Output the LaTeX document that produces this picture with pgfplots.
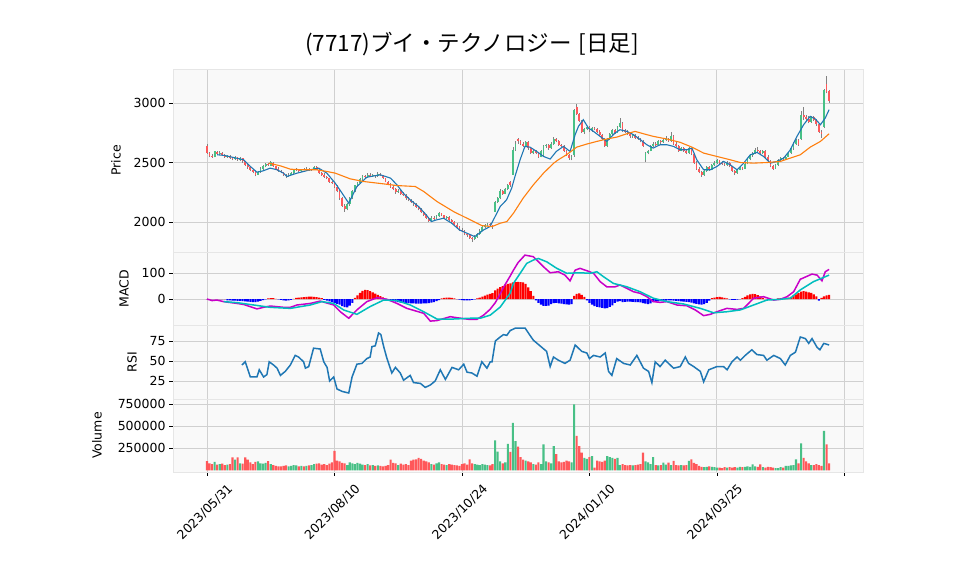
\documentclass[border=0pt]{standalone}
\usepackage{pgfplots}
\pgfplotsset{compat=1.18}
\usepackage{pgfplotstable}
\usepackage{fontspec}
\setmainfont{DejaVu Sans}
\newfontfamily\jp{Noto Sans CJK JP}

\definecolor{upc}{RGB}{72,192,134}
\definecolor{dnc}{RGB}{255,88,90}
\definecolor{wick}{RGB}{130,130,130}
\definecolor{bgc}{RGB}{249,249,249}
\definecolor{gridc}{RGB}{208,208,208}
\definecolor{framec}{RGB}{230,230,230}
\definecolor{ma1}{RGB}{31,119,180}
\definecolor{ma2}{RGB}{255,127,14}
\definecolor{macdc}{RGB}{200,0,200}
\definecolor{sigc}{RGB}{0,190,190}

% daily candles: index, open, high, low, close, volume, MACD histogram
\pgfplotstableread{
i o h l c v m
0 2640 2655 2575 2585 103000 0
1 2580 2590 2545 2555 80000 0
2 2555 2570 2540 2550 70000 0
3 2550 2600 2545 2595 95000 0
4 2590 2600 2565 2575 65000 0
5 2575 2595 2565 2585 70000 0
6 2580 2590 2555 2560 75000 0
7 2560 2570 2540 2545 60000 0
8 2545 2565 2540 2555 65000 -5
9 2555 2560 2530 2540 70000 -5
10 2540 2550 2520 2530 147000 -6
11 2530 2555 2525 2545 120000 -6
12 2545 2550 2515 2520 147000 -7
13 2520 2545 2510 2535 80000 -7
14 2535 2540 2500 2510 75000 -8
15 2510 2515 2470 2480 147000 -9
16 2480 2490 2450 2460 120000 -10
17 2460 2470 2430 2440 90000 -11
18 2440 2450 2410 2425 70000 -12
19 2425 2430 2385 2400 95000 -12
20 2400 2430 2395 2420 100000 -10
21 2420 2460 2415 2450 80000 -7
22 2450 2480 2440 2470 75000 -4
23 2470 2500 2460 2490 85000 -1
24 2490 2495 2470 2480 103000 2
25 2475 2515 2470 2505 70000 3
26 2500 2505 2465 2470 60000 3
27 2470 2475 2440 2450 50000 1
28 2450 2460 2425 2430 45000 -1
29 2430 2440 2410 2420 45000 -3
30 2420 2425 2390 2400 50000 -5
31 2400 2405 2370 2385 55000 -6
32 2385 2410 2380 2400 45000 -5
33 2400 2420 2395 2410 50000 -3
34 2410 2450 2405 2440 60000 1
35 2440 2455 2430 2445 55000 4
36 2445 2450 2425 2430 45000 5
37 2430 2450 2425 2445 50000 6
38 2445 2455 2435 2440 45000 7
39 2440 2460 2435 2450 50000 8
40 2450 2455 2430 2435 55000 9
41 2435 2450 2430 2445 60000 9
42 2445 2475 2440 2465 70000 8
43 2465 2470 2435 2440 75000 7
44 2440 2445 2405 2410 80000 5
45 2410 2420 2390 2400 65000 3
46 2400 2410 2375 2380 70000 -3
47 2380 2390 2360 2370 60000 -6
48 2370 2375 2330 2340 75000 -9
49 2340 2350 2320 2330 90000 -12
50 2330 2335 2290 2300 220000 -15
51 2300 2310 2250 2260 110000 -19
52 2260 2270 2190 2200 100000 -22
53 2200 2210 2130 2140 85000 -27
54 2140 2150 2090 2110 80000 -31
55 2110 2160 2100 2150 60000 -32
56 2150 2210 2140 2200 90000 -25
57 2200 2270 2195 2260 80000 -15
58 2260 2315 2250 2310 70000 4
59 2310 2340 2300 2330 85000 14
60 2330 2370 2320 2360 75000 24
61 2360 2395 2350 2385 65000 31
62 2385 2395 2370 2380 60000 35
63 2380 2410 2375 2400 70000 34
64 2400 2410 2380 2390 55000 30
65 2390 2405 2380 2395 60000 26
66 2395 2400 2375 2385 50000 21
67 2385 2420 2380 2405 55000 16
68 2405 2415 2390 2395 50000 11
69 2395 2400 2365 2370 45000 6
70 2370 2375 2335 2340 50000 1
71 2340 2350 2310 2320 60000 -2
72 2320 2330 2290 2300 120000 -5
73 2300 2310 2270 2280 85000 -7
74 2280 2285 2240 2250 80000 -10
75 2250 2275 2245 2265 60000 -12
76 2265 2270 2230 2240 75000 -14
77 2240 2250 2220 2230 65000 -15
78 2230 2235 2190 2200 70000 -16
79 2200 2210 2175 2185 60000 -16
80 2185 2195 2160 2170 110000 -17
81 2170 2180 2140 2150 120000 -17
82 2150 2160 2120 2130 125000 -18
83 2130 2140 2100 2110 140000 -18
84 2110 2120 2080 2090 130000 -18
85 2090 2095 2050 2060 110000 -17
86 2060 2070 2030 2040 100000 -17
87 2040 2045 2000 2010 90000 -16
88 2010 2050 2005 2040 70000 -14
89 2040 2050 2020 2035 65000 -12
90 2035 2060 2030 2050 80000 -8
91 2050 2085 2045 2075 90000 -4
92 2075 2080 2050 2060 70000 2
93 2060 2065 2030 2040 65000 4
94 2040 2055 2025 2045 60000 5
95 2045 2050 2010 2020 70000 5
96 2020 2025 1990 2000 65000 4
97 2000 2010 1970 1980 60000 2
98 1980 1990 1950 1960 55000 0
99 1960 1970 1925 1935 50000 -2
100 1935 1950 1920 1930 70000 -4
101 1930 1935 1890 1900 80000 -5
102 1900 1910 1880 1890 65000 -5
103 1890 1895 1860 1870 125000 -5
104 1870 1880 1835 1860 80000 -3
105 1860 1890 1850 1880 70000 -1
106 1880 1910 1870 1900 65000 2
107 1900 1940 1895 1930 60000 5
108 1930 1970 1925 1960 70000 9
109 1960 1985 1950 1975 65000 13
110 1975 1995 1965 1985 60000 17
111 1985 1990 1960 1975 55000 20
112 1975 1980 1945 1960 70000 23
113 2090 2180 2085 2170 340000 33
114 2170 2215 2160 2205 213000 40
115 2205 2275 2195 2260 100000 46
116 2260 2270 2230 2240 80000 50
117 2240 2290 2235 2280 90000 55
118 2280 2320 2270 2310 300000 58
119 2335 2345 2300 2315 210000 60
120 2400 2630 2395 2610 540000 64
121 2610 2680 2600 2660 330000 65
122 2700 2710 2660 2680 270000 66
123 2680 2690 2650 2660 150000 65
124 2660 2670 2630 2640 120000 64
125 2640 2685 2635 2670 110000 58
126 2670 2680 2610 2620 100000 45
127 2620 2630 2570 2580 90000 30
128 2580 2610 2570 2600 70000 12
129 2600 2610 2570 2580 65000 -5
130 2580 2590 2540 2550 90000 -15
131 2550 2610 2545 2600 70000 -22
132 2560 2650 2555 2640 295000 -26
133 2640 2660 2625 2650 100000 -26
134 2650 2655 2610 2620 90000 -25
135 2620 2670 2615 2660 80000 -20
136 2660 2715 2650 2700 276000 -16
137 2700 2710 2670 2680 185000 -15
138 2680 2690 2640 2650 100000 -17
139 2650 2660 2630 2640 90000 -18
140 2640 2650 2590 2600 95000 -20
141 2600 2605 2555 2560 110000 -21
142 2560 2570 2525 2540 100000 -22
143 2540 2560 2520 2550 90000 -20
144 2560 2950 2550 2940 750000 12
145 2970 2990 2900 2910 390000 20
146 2910 2920 2840 2850 276000 22
147 2850 2860 2750 2760 200000 16
148 2760 2790 2740 2780 140000 8
149 2780 2810 2770 2800 130000 -5
150 2800 2810 2760 2770 150000 -15
151 2770 2800 2760 2790 160000 -22
152 2790 2800 2770 2780 30000 -27
153 2780 2790 2750 2760 110000 -30
154 2760 2770 2720 2730 100000 -32
155 2730 2740 2690 2700 95000 -34
156 2700 2710 2630 2640 110000 -36
157 2640 2710 2630 2700 160000 -35
158 2700 2750 2690 2740 150000 -30
159 2740 2780 2730 2770 140000 -24
160 2770 2780 2740 2750 130000 -15
161 2750 2810 2745 2800 140000 -10
162 2800 2875 2790 2830 60000 -8
163 2830 2840 2760 2770 70000 -12
164 2770 2780 2750 2760 60000 -11
165 2760 2770 2730 2740 55000 -10
166 2740 2750 2710 2720 60000 -10
167 2720 2740 2710 2730 55000 -11
168 2730 2740 2700 2710 60000 -12
169 2710 2720 2690 2700 65000 -12
170 2700 2710 2670 2680 70000 -13
171 2680 2690 2630 2640 200000 -16
172 2520 2590 2505 2580 100000 -18
173 2580 2610 2570 2600 90000 -20
174 2600 2650 2595 2640 70000 -17
175 2640 2670 2630 2660 150000 -12
176 2660 2670 2640 2650 60000 -10
177 2650 2690 2645 2680 55000 -9
178 2680 2690 2660 2670 60000 -8
179 2670 2700 2665 2690 87000 -8
180 2690 2720 2680 2700 65000 -6
181 2700 2710 2675 2680 87000 -5
182 2680 2760 2675 2720 60000 -5
183 2720 2730 2650 2660 106000 -6
184 2660 2670 2630 2640 60000 -7
185 2640 2650 2590 2600 55000 -8
186 2600 2630 2595 2620 60000 -9
187 2620 2630 2590 2600 55000 -10
188 2600 2610 2570 2580 60000 -11
189 2580 2630 2575 2620 106000 -12
190 2620 2625 2560 2570 125000 -14
191 2570 2580 2490 2500 85000 -17
192 2500 2510 2440 2450 70000 -19
193 2450 2460 2410 2420 50000 -21
194 2420 2430 2380 2400 40000 -22
195 2400 2440 2390 2430 35000 -20
196 2430 2470 2425 2460 40000 -15
197 2460 2470 2430 2440 45000 -6
198 2440 2490 2435 2480 40000 3
199 2480 2510 2470 2500 35000 5
200 2500 2530 2490 2520 30000 7
201 2520 2525 2490 2500 30000 8
202 2500 2510 2480 2490 25000 6
203 2490 2500 2470 2480 35000 4
204 2480 2510 2475 2500 30000 2
205 2500 2505 2460 2470 35000 -1
206 2470 2475 2420 2430 30000 -3
207 2430 2440 2395 2410 35000 -3
208 2410 2450 2405 2440 30000 -2
209 2440 2470 2435 2460 40000 0
210 2460 2465 2440 2450 35000 3
211 2450 2500 2445 2490 40000 8
212 2490 2540 2485 2530 45000 14
213 2530 2570 2520 2560 40000 18
214 2560 2590 2550 2580 68000 20
215 2580 2620 2570 2610 45000 19
216 2610 2630 2590 2600 40000 15
217 2600 2610 2570 2580 68000 10
218 2580 2610 2570 2600 35000 4
219 2600 2605 2540 2550 30000 1
220 2550 2560 2500 2510 40000 -2
221 2510 2520 2460 2470 35000 -3
222 2470 2480 2440 2450 30000 -2
223 2450 2490 2445 2480 25000 0
224 2480 2530 2475 2520 25000 2
225 2520 2550 2510 2540 35000 3
226 2540 2550 2515 2530 30000 3
227 2530 2560 2525 2550 50000 2
228 2550 2590 2545 2580 50000 5
229 2580 2630 2575 2620 55000 8
230 2620 2670 2610 2660 60000 13
231 2660 2700 2650 2690 125000 18
232 2690 2700 2640 2650 80000 23
233 2700 2930 2690 2900 307000 28
234 2900 2970 2860 2880 140000 30
235 2880 2900 2850 2870 100000 28
236 2870 2890 2830 2840 80000 26
237 2840 2890 2835 2880 60000 24
238 2880 2895 2850 2860 60000 18
239 2860 2870 2810 2820 70000 10
240 2820 2830 2750 2760 60000 -6
241 2760 2770 2710 2740 50000 4
242 2800 3120 2790 3110 447000 10
243 3160 3225 3080 3090 295000 14
244 3100 3110 3000 3015 80000 16
}\ohlc

\pgfplotsset{
  panel/.style={scale only axis, width=690pt, xmin=-13.33, xmax=257.3,
    axis background/.style={fill=bgc},
    axis line style={draw=framec},
    grid=major, major grid style={draw=gridc, line width=0.9pt},
    xtick={0,50,...,250},
    ytick pos=left, xtick pos=bottom,
    tick align=outside, major tick length=4pt,
    ytick style={black, line width=0.8pt},
    tick label style={font=\fontsize{12.5}{15}\selectfont},
    label style={font=\fontsize{12.5}{15}\selectfont},
    ylabel shift=6pt,
    /pgf/number format/assume math mode=true,
    /pgf/number format/1000 sep={},
    scaled y ticks=false},
  upper/.style={panel, xticklabels={}, xtick style={draw=none}},
  body/.style={draw=none, mark=none, forget plot,
    error bars/y dir=plus, error bars/y explicit, error bars/error mark=none,
    error bars/error bar style={line width=1.8pt, draw=#1, solid}},
  bars/.style={ybar, bar width=2.1pt, bar shift=0pt, fill=#1, draw=none, forget plot},
}

\begin{document}
\begin{tikzpicture}
\useasboundingbox (0,0) rectangle (958pt,575pt);
\node[font=\jp\fontsize{22.5}{26}\selectfont] at (472pt,531pt) {(7717)ブイ・テクノロジー\hspace{7pt}[日足]};

% price panel
\begin{axis}[upper, at={(173pt,323pt)}, anchor=south west, height=183pt,
  ymin=1751, ymax=3285, ytick={2000,2500,3000}, ylabel={Price}]
\addplot[body=wick, error bars/error bar style={line width=0.7pt}]
  table[x=i, y=l, y error expr=\thisrow{h}-\thisrow{l}] {\ohlc};
\addplot[body=upc, restrict y to domain=1000:5000]
  table[x=i, y expr={\thisrow{c}>=\thisrow{o} ? \thisrow{o} : 0},
        y error expr=\thisrow{c}-\thisrow{o}] {\ohlc};
\addplot[body=dnc, restrict y to domain=1000:5000]
  table[x=i, y expr={\thisrow{c}<\thisrow{o} ? \thisrow{c} : 0},
        y error expr=\thisrow{o}-\thisrow{c}] {\ohlc};
\addplot[ma1, line width=1.1pt] coordinates {
(4,2566)(7,2560)(10,2545)(14.4,2524)(17,2468)(19.6,2420)(22,2431)(24.8,2454)(27.5,2440)
(30,2412)(31.4,2384)(35.3,2412)(40.5,2440)(43.8,2454)(47,2412)(50.3,2328)(53,2244)
(55.6,2160)(58.8,2300)(62.7,2378)(68,2398)(72,2370)(74.5,2314)(77,2244)(79.7,2188)
(83,2132)(86,2062)(88,2006)(90,2020)(92.8,2034)(96,1992)(99,1936)(105,1880)(108.5,1936)
(111,1964)(115,2132)(117.5,2188)(119.5,2286)(120.8,2384)(122.8,2524)(124.7,2636)
(126.7,2630)(129.3,2594)(132,2552)(134.6,2530)(137,2594)(139.8,2636)(142.4,2594)
(144.4,2734)(145.7,2804)(147.6,2860)(149.6,2790)(151.6,2762)(154.2,2720)(156.8,2678)
(160,2748)(162,2776)(164.7,2762)(167.3,2734)(170,2692)(172.5,2650)(175,2622)(177.7,2650)
(180.4,2650)(183,2636)(185.6,2608)(188.2,2608)(190.2,2622)(192.1,2524)(194.8,2440)
(197.4,2440)(200,2468)(202.6,2510)(205.2,2482)(207.9,2440)(210.5,2496)(213.1,2566)
(215.7,2586)(218.3,2552)(221,2496)(223.6,2510)(226.2,2538)(228.8,2608)(231.4,2720)
(234,2818)(236.6,2888)(238.6,2866)(240.6,2818)(242.5,2874)(244,2944)};
\addplot[ma2, line width=1.1pt] coordinates {
(24.2,2496)(28.8,2473)(32.7,2445)(38,2440)(43,2440)(47,2426)(50.3,2412)(56.2,2364)
(61.4,2342)(69.3,2322)(74.5,2308)(81.7,2300)(85,2258)(90.2,2174)(96.7,2090)(103.3,2020)
(107.8,1972)(111.8,1964)(115,1992)(117.6,2006)(120.2,2076)(124,2202)(128,2314)(132,2412)
(136,2496)(137.8,2524)(141,2566)(145,2630)(149,2656)(152.9,2678)(156.8,2698)(160.7,2714)
(164.7,2742)(167.9,2762)(171.2,2742)(175.1,2720)(180.4,2698)(185.6,2670)(190.2,2630)
(194.8,2580)(200,2552)(205.2,2524)(209.2,2501)(214.4,2496)(219.6,2501)(224.9,2510)
(228.8,2538)(232.7,2566)(236.6,2630)(240.6,2678)(244,2742)};
\end{axis}

% MACD panel
\begin{axis}[upper, at={(173pt,250pt)}, anchor=south west, height=73pt,
  ymin=-100, ymax=181, ytick={0,100}, ylabel={MACD}]
\addplot[bars=red, restrict y to domain=0:1000] table[x=i, y=m] {\ohlc};
\addplot[bars=blue, restrict y to domain=-1000:0] table[x=i, y=m] {\ohlc};
\addplot[macdc, line width=1.5pt] coordinates {
(0,0)(2,-6)(3.9,-4)(6.5,-10)(11.8,-17)(14.4,-21)(19.6,-38)(22.2,-32)(24.8,-27)(30.1,-32)
(32.7,-32)(35.3,-23)(40.5,-17)(44.4,-8)(49.7,-23)(52.3,-49)(55.6,-74)(58.8,-42)(62.7,-10)
(66.7,5)(70.6,-1)(74.5,-17)(78.4,-36)(85,-55)(87.6,-85)(90.2,-83)(95.4,-68)(98,-72)
(102.6,-78)(105.9,-78)(108.5,-62)(111,-40)(113,-15)(114.5,10)(116.3,45)(119,90)(120.2,111)
(122,140)(124.7,169)(128,163)(132,124)(134.6,101)(137.8,105)(140.4,92)(142.4,70)(144.4,111)
(146.3,118)(149,109)(151.6,99)(154.2,67)(156.8,47)(160.1,47)(162,54)(164.7,41)(167.3,28)
(169.9,22)(172.5,9)(175.1,-10)(177.7,-13)(180.4,-10)(184.3,-23)(188.2,-26)(191.5,-42)
(194.8,-64)(197.4,-59)(200,-49)(203.9,-36)(207.9,-40)(210.5,-36)(214.4,3)(218.3,9)
(222.3,-4)(224.9,-1)(227.5,9)(230.1,28)(232.7,76)(237.3,96)(239.3,92)(241.2,70)(242.5,105)(244,114)};
\addplot[sigc, line width=1.5pt] coordinates {
(6.5,-10)(11.8,-14)(18.3,-23)(24.8,-32)(32.7,-36)(40.5,-23)(45.1,-10)(49.7,-17)(53.6,-42)
(58.8,-59)(64,-29)(69.3,-4)(74.5,-6)(79.7,-23)(85,-49)(90.2,-77)(96.7,-77)(103.3,-74)
(107.2,-74)(111.1,-62)(115,-31)(118.9,22)(120.2,60)(122.9,100)(125.4,137)(128,150)(130,156)
(133.3,143)(137.2,118)(141.1,99)(146.3,101)(150.3,99)(152.9,105)(155.5,86)(159.4,60)
(164.7,47)(169.9,28)(175.1,3)(180.4,-10)(186.9,-19)(193.5,-36)(198.7,-53)(203.9,-49)
(209.2,-42)(214.4,-23)(219.6,-4)(224.9,-1)(228.8,3)(232.7,35)(237.9,67)(244,92)};
\end{axis}

% RSI panel
\begin{axis}[upper, at={(173pt,176pt)}, anchor=south west, height=74pt,
  ymin=2.5, ymax=95, ytick={25,50,75}, ylabel={RSI}]
\addplot[ma1, line width=1.5pt] coordinates {
(13.7,45)(15,49)(17,30)(19.6,30)(20.5,39)(22.2,30)(23.5,33)(24.4,49)(26.1,45)(27.5,41)
(28.8,32)(30.7,37)(32.7,45)(34.6,57)(35.9,55)(37.9,49)(38.6,41)(39.9,43)(41.8,66)(44.4,65)
(45.8,49)(47.1,42)(48.1,25)(49.7,30)(51,15)(53,12)(54.2,11)(55.6,10)(56.9,30)(58.8,46)
(60.8,47)(62.7,53)(64,55)(64.7,68)(66,69)(67.3,85)(68.2,83)(69.3,68)(70.6,53)(72.5,35)
(73.9,42)(75.8,35)(77.1,26)(79.7,32)(81,23)(83.7,22)(85.6,17)(87.6,20)(89.5,25)(91.5,39)
(93.5,27)(96.1,42)(98.7,39)(100.7,46)(102,36)(103.9,35)(105.9,31)(107.8,49)(109.8,41)
(111.1,49)(111.8,49)(113.1,75)(115,80)(116.3,83)(117.6,82)(118.9,88)(120.9,91)(124.8,91)
(126.7,82)(128,76)(133.2,62)(134.6,43)(135.9,55)(137.8,51)(140.4,47)(142.4,51)(144.4,70)
(147,62)(149,60)(150,53)(151.6,57)(154.2,55)(156.2,60)(157.5,37)(158.8,32)(160.7,53)
(163.4,47)(166,45)(168.6,57)(171.2,41)(173.2,37)(174.5,23)(175.8,49)(177.7,43)(179.7,51)
(183,41)(185.6,43)(187.6,55)(188.9,47)(190.9,43)(193.5,37)(194.8,24)(196.8,39)(200,43)
(202.6,43)(204,39)(205.9,49)(207.9,55)(209.2,51)(211.1,57)(213.7,64)(215.7,58)(218.3,57)
(219.6,51)(222.3,57)(224.9,53)(226.8,45)(228.8,57)(230.8,61)(232.7,80)(234.7,78)(236,72)
(237.3,78)(239.3,67)(240.4,64)(241.9,72)(243,71)(244,70)};
\end{axis}

% volume panel
\begin{axis}[panel, at={(173pt,103pt)}, anchor=south west, height=73pt,
  ymin=-19300, ymax=810000, ytick={250000,500000,750000},
  yticklabels={250000,500000,750000}, ylabel={Volume}, ylabel shift=9pt,
  xtick style={black, line width=0.8pt},
  xticklabels={2023/05/31,2023/08/10,2023/10/24,2024/01/10,2024/03/25,{}},
  xticklabel style={yshift=-36pt, xshift=-2pt, rotate=45, anchor=center}]
\addplot[bars=upc, restrict y to domain=0:2000000]
  table[x=i, y expr={\thisrow{c}>=\thisrow{o} ? \thisrow{v} : -1}] {\ohlc};
\addplot[bars=dnc, restrict y to domain=0:2000000]
  table[x=i, y expr={\thisrow{c}<\thisrow{o} ? \thisrow{v} : -1}] {\ohlc};
\end{axis}
\end{tikzpicture}
\end{document}
